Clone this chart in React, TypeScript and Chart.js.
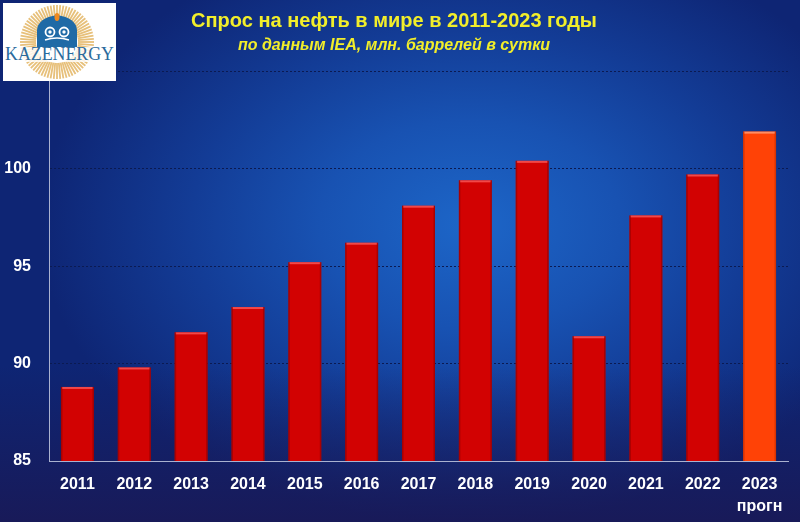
import React, { useEffect, useRef } from "react";
import { Chart, registerables } from "chart.js";

Chart.register(...registerables);

const years: (string | string[])[] = [
  "2011", "2012", "2013", "2014", "2015", "2016", "2017",
  "2018", "2019", "2020", "2021", "2022", ["2023", "прогн"],
];
const demand = [88.8, 89.8, 91.6, 92.9, 95.2, 96.2, 98.1, 99.4, 100.4, 91.4, 97.6, 99.7, 101.9];
const isForecast = [false, false, false, false, false, false, false, false, false, false, false, false, true];
const yMin = 85;
const yMax = 105;
const yStep = 5;

const titleText = "Спрос на нефть в мире в 2011-2023 годы";
const subtitleText = "по данным IEA, млн. баррелей в сутки";

const FONT = "'Liberation Sans', Arial, 'Roboto', sans-serif";

const barTopHighlight = {
  id: "barTopHighlight",
  afterDatasetsDraw(chart: any) {
    const meta = chart.getDatasetMeta(0);
    const ctx = chart.ctx;
    const bottom = chart.chartArea.bottom;
    ctx.save();
    meta.data.forEach((bar: any, i: number) => {
      const w = bar.width;
      const left = bar.x - w / 2;
      const h = bottom - bar.y;
      ctx.fillStyle = isForecast[i] ? "rgba(255,150,110,0.9)" : "rgba(245,80,80,0.9)";
      ctx.fillRect(left + 1, bar.y, w - 2, 2);
      ctx.fillStyle = isForecast[i] ? "rgba(180,40,0,0.5)" : "rgba(120,0,0,0.45)";
      ctx.fillRect(left, bar.y, 1.5, h);
      ctx.fillRect(left + w - 1.5, bar.y, 1.5, h);
    });
    ctx.restore();
  },
};

function Logo() {
  const rays: JSX.Element[] = [];
  for (let a = 0; a < 360; a += 5) {
    const r = (a * Math.PI) / 180;
    const cx = 54, cy = 39;
    rays.push(
      <line
        key={a}
        x1={cx + Math.cos(r) * 21}
        y1={cy + Math.sin(r) * 21}
        x2={cx + Math.cos(r) * 37}
        y2={cy + Math.sin(r) * 37}
        stroke="#e7c07a"
        strokeWidth={1.8}
      />
    );
  }
  return (
    <svg width={113} height={78} viewBox="0 0 113 78" style={{ position: "absolute", left: 3, top: 3, display: "block" }}>
      <rect x={0} y={0} width={113} height={78} fill="#ffffff" />
      {rays}
      <path d="M34,44 L34,27 Q35,15 54,12 Q73,15 74,27 L74,44 Z" fill="#1f6aa6" />
      <ellipse cx={54} cy={14} rx={2.5} ry={4} fill="#f08a20" />
      <circle cx={47} cy={29} r={4.5} fill="none" stroke="#ffffff" strokeWidth={1.8} />
      <circle cx={47} cy={29} r={1.7} fill="#ffffff" />
      <circle cx={61} cy={29} r={4.5} fill="none" stroke="#ffffff" strokeWidth={1.8} />
      <circle cx={61} cy={29} r={1.7} fill="#ffffff" />
      <path d="M42,37 Q54,33 66,37" fill="none" stroke="#ffffff" strokeWidth={1.5} />
      <rect x={1} y={44} width={111} height={15} fill="rgba(255,255,255,0.8)" />
      <text x={2} y={57} fontFamily="'Liberation Serif', 'DejaVu Serif', serif" fontSize={18} fill="#2b6b9c" textLength={109} lengthAdjust="spacingAndGlyphs">
        KAZENERGY
      </text>
    </svg>
  );
}

export default function App() {
  const canvasRef = useRef<HTMLCanvasElement | null>(null);

  useEffect(() => {
    if (!canvasRef.current) return;
    const chart = new Chart(canvasRef.current, {
      type: "bar",
      data: {
        labels: years,
        datasets: [
          {
            data: demand,
            backgroundColor: isForecast.map((f) => (f ? "#ff4206" : "#d20202")),
            borderWidth: 0,
            barPercentage: 0.58,
            categoryPercentage: 1,
          },
        ],
      },
      options: {
        animation: false,
        responsive: false,
        maintainAspectRatio: false,
        layout: { padding: { left: 0, right: 12, top: 0, bottom: 4 } },
        plugins: {
          legend: { display: false },
          tooltip: { enabled: false },
          title: {
            display: true,
            text: titleText,
            color: "#f2ee2a",
            font: { family: FONT, size: 20, weight: "bold", lineHeight: 1.2 },
            padding: { top: 9, bottom: 0 },
          },
          subtitle: {
            display: true,
            text: subtitleText,
            color: "#f2ee2a",
            font: { family: FONT, size: 16, weight: "bold", style: "italic", lineHeight: 1.2 },
            padding: { top: 3, bottom: 16 },
          },
        },
        scales: {
          x: {
            afterFit: (scale: any) => {
              scale.height = 57;
            },
            grid: { display: false, drawTicks: false },
            border: { display: true, color: "#aab2d0", width: 1 },
            ticks: {
              color: "#ffffff",
              padding: 13,
              maxRotation: 0,
              minRotation: 0,
              autoSkip: false,
              font: { family: FONT, size: 16, weight: "bold", lineHeight: 1.375 },
            },
          },
          y: {
            min: yMin,
            max: yMax,
            afterFit: (scale: any) => {
              scale.width = 49;
            },
            grid: {
              drawTicks: false,
              color: (ctx: any) => (ctx.tick && ctx.tick.value === yMin ? "rgba(0,0,0,0)" : "#0b1a52"),
              lineWidth: 1,
            },
            border: { display: true, color: "#aab2d0", width: 1, dash: [2, 2] },
            ticks: {
              stepSize: yStep,
              color: "#ffffff",
              padding: 18,
              font: { family: FONT, size: 16, weight: "bold" },
              callback: (v: any) => (v === yMax ? "" : String(v)),
            },
          },
        },
      },
      plugins: [barTopHighlight],
    });
    return () => chart.destroy();
  }, []);

  return (
    <div
      style={{
        position: "absolute",
        left: 0,
        top: 0,
        width: 800,
        height: 522,
        overflow: "hidden",
        background:
          "linear-gradient(to bottom, rgba(0,0,0,0) 70%, rgba(26,24,84,0.85) 100%), radial-gradient(ellipse 430px 300px at 470px 225px, #1d66c8 0%, #1852b2 35%, #133c96 65%, #0e2574 100%)",
      }}
    >
      <canvas ref={canvasRef} width={800} height={522} style={{ display: "block" }} />
      <Logo />
    </div>
  );
}
